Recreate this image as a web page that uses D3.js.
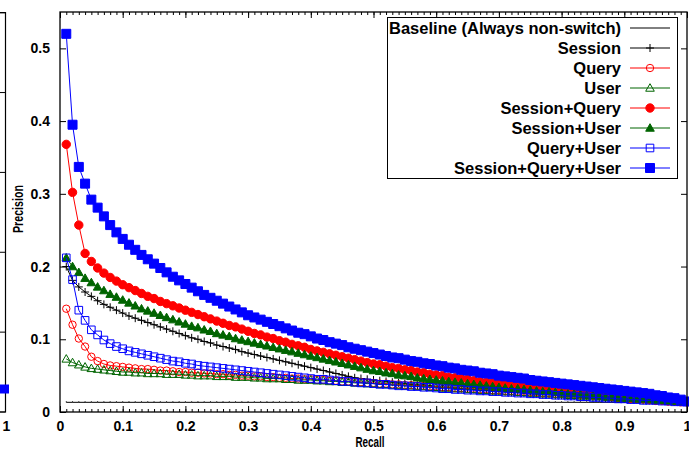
<!DOCTYPE html>
<html>
<head>
<meta charset="utf-8">
<script src="https://cdn.jsdelivr.net/npm/d3@7"></script>
<style>
body { margin: 0; background: #fff; }
svg { display: block; font-family: "Liberation Sans", Arial, sans-serif; font-weight: bold; }
</style>
</head>
<body>
<svg id="chart" width="689" height="451"></svg>
<script>

// recall grid (x values)
var recall = [0.01,0.02,0.03,0.04,0.05,0.06,0.07,0.08,0.09,0.10,
              0.11,0.12,0.13,0.14,0.15,0.16,0.17,0.18,0.19,0.20,
              0.21,0.22,0.23,0.24,0.25,0.26,0.27,0.28,0.29,0.30,
              0.31,0.32,0.33,0.34,0.35,0.36,0.37,0.38,0.39,0.40,
              0.41,0.42,0.43,0.44,0.45,0.46,0.47,0.48,0.49,0.50,
              0.51,0.52,0.53,0.54,0.55,0.56,0.57,0.58,0.59,0.60,
              0.61,0.62,0.63,0.64,0.65,0.66,0.67,0.68,0.69,0.70,
              0.71,0.72,0.73,0.74,0.75,0.76,0.77,0.78,0.79,0.80,
              0.81,0.82,0.83,0.84,0.85,0.86,0.87,0.88,0.89,0.90,
              0.91,0.92,0.93,0.94,0.95,0.96,0.97,0.98,0.99,1.00];

// precision of the always non-switch baseline
var baseline_precision = 0.0133;

var session = [.200,.181,.172,.165,.159,.153,.148,.144,.140,.136,
               .132,.129,.126,.123,.120,.117,.114,.111,.108,.105,
               .102,.100,.097,.095,.092,.090,.088,.086,.083,.081,
               .079,.077,.075,.073,.071,.069,.067,.065,.063,.061,
               .059,.057,.055,.053,.051,.049,.047,.046,.045,.044,
               .043,.042,.041,.040,.039,.038,.037,.037,.036,.035,
               .034,.034,.033,.032,.032,.031,.030,.030,.029,.028,
               .028,.027,.027,.026,.025,.025,.024,.024,.023,.023,
               .022,.022,.021,.021,.020,.020,.019,.019,.018,.018,
               .017,.017,.016,.016,.016,.015,.015,.014,.014,.014];

var query = [.142,.120,.101,.090,.076,.070,.066,.064,.063,.062,
             .061,.060,.059,.059,.058,.057,.057,.056,.055,.055,
             .054,.054,.053,.053,.052,.052,.051,.051,.050,.050,
             .049,.049,.048,.048,.047,.047,.046,.046,.045,.045,
             .044,.044,.043,.043,.042,.042,.041,.041,.040,.040,
             .039,.039,.038,.038,.037,.037,.036,.036,.035,.035,
             .034,.034,.033,.033,.032,.032,.031,.031,.030,.030,
             .029,.029,.028,.028,.027,.027,.026,.026,.025,.025,
             .024,.024,.023,.023,.022,.022,.021,.021,.020,.020,
             .019,.019,.018,.018,.017,.016,.016,.015,.015,.014];

var user = [.073,.068,.065,.062,.060,.059,.058,.057,.056,.055,
            .055,.054,.054,.053,.053,.053,.052,.052,.052,.051,
            .051,.050,.050,.050,.049,.049,.049,.048,.048,.048,
            .047,.047,.046,.046,.046,.045,.045,.044,.044,.044,
            .043,.043,.042,.042,.041,.041,.040,.040,.039,.039,
            .038,.038,.037,.037,.036,.036,.035,.035,.034,.034,
            .033,.033,.032,.032,.031,.031,.030,.030,.029,.029,
            .028,.028,.027,.027,.026,.026,.025,.025,.024,.024,
            .023,.023,.022,.022,.021,.021,.020,.020,.019,.019,
            .018,.018,.017,.017,.016,.016,.015,.015,.014,.014];

var session_query = [.368,.302,.257,.218,.207,.198,.191,.185,.180,.175,
                     .171,.167,.163,.159,.156,.152,.149,.146,.143,.140,
                     .137,.134,.131,.128,.125,.122,.119,.117,.114,.111,
                     .108,.106,.103,.101,.098,.096,.093,.091,.089,.086,
                     .084,.082,.080,.078,.076,.074,.072,.070,.068,.066,
                     .065,.063,.061,.060,.058,.057,.055,.054,.052,.051,
                     .050,.048,.047,.046,.045,.043,.042,.041,.040,.039,
                     .038,.037,.036,.035,.034,.033,.032,.031,.030,.029,
                     .028,.027,.026,.026,.025,.024,.023,.022,.021,.020,
                     .019,.019,.018,.017,.016,.016,.015,.015,.014,.014];

var session_user = [.212,.200,.192,.184,.178,.172,.167,.162,.158,.154,
                    .150,.146,.142,.139,.136,.133,.130,.127,.124,.121,
                    .118,.116,.113,.111,.108,.106,.104,.101,.099,.097,
                    .095,.093,.091,.089,.087,.085,.083,.081,.079,.077,
                    .075,.073,.071,.069,.067,.065,.063,.061,.059,.057,
                    .056,.054,.053,.051,.050,.049,.047,.046,.045,.044,
                    .043,.042,.041,.040,.039,.038,.037,.036,.035,.034,
                    .033,.032,.032,.031,.030,.029,.028,.028,.027,.026,
                    .025,.025,.024,.023,.023,.022,.021,.021,.020,.019,
                    .019,.018,.018,.017,.016,.016,.015,.015,.014,.014];

var query_user = [.212,.182,.140,.126,.113,.106,.099,.094,.090,.087,
                  .084,.082,.080,.078,.076,.074,.072,.070,.069,.067,
                  .066,.064,.063,.062,.061,.060,.059,.058,.057,.056,
                  .055,.054,.053,.052,.051,.050,.049,.048,.047,.046,
                  .045,.045,.044,.043,.042,.042,.041,.040,.040,.039,
                  .038,.038,.037,.036,.036,.035,.035,.034,.034,.033,
                  .032,.032,.031,.031,.030,.030,.029,.029,.028,.028,
                  .027,.027,.026,.026,.025,.025,.024,.024,.023,.023,
                  .022,.022,.021,.021,.020,.020,.019,.019,.018,.018,
                  .017,.017,.016,.016,.016,.015,.015,.014,.014,.014];

var session_query_user = [.520,.395,.337,.314,.292,.281,.269,.257,.247,.238,
                          .230,.223,.216,.210,.204,.198,.192,.186,.181,.176,
                          .171,.166,.161,.157,.153,.149,.145,.141,.137,.133,
                          .130,.127,.124,.121,.118,.115,.112,.109,.107,.104,
                          .101,.099,.096,.094,.092,.089,.087,.085,.083,.081,
                          .079,.077,.075,.074,.072,.070,.069,.067,.066,.064,
                          .063,.061,.060,.058,.057,.056,.054,.053,.052,.050,
                          .049,.048,.047,.046,.044,.043,.042,.041,.040,.039,
                          .038,.037,.036,.035,.034,.033,.032,.031,.030,.029,
                          .028,.027,.026,.025,.023,.022,.020,.019,.017,.0145];

var series_names = ["Baseline (Always non-switch)", "Session", "Query", "User",
                    "Session+Query", "Session+User", "Query+User", "Session+Query+User"];
var series_values = [recall.map(function(){ return baseline_precision; }),
                     session, query, user, session_query, session_user, query_user, session_query_user];

var x_ticks = [0,0.1,0.2,0.3,0.4,0.5,0.6,0.7,0.8,0.9,1];
var x_tick_labels = ["0","0.1","0.2","0.3","0.4","0.5","0.6","0.7","0.8","0.9","1"];
var y_ticks = [0,0.1,0.2,0.3,0.4,0.5];
var y_tick_labels = ["0","0.1","0.2","0.3","0.4","0.5"];

// neighbouring panel cut off at the left edge: only its last point shows
var left_panel_recall = [1];
var left_panel_value = [0.0144];
var left_panel_y_ticks = [0,0.05,0.1,0.15,0.2,0.25];

// styles
var series_colors = ["#000000","#000000","#ff0000","#006400","#ff0000","#006400","#0000ff","#0000ff"];
var series_marker = ["dot","plus","circle","triangle","circle","triangle","square","square"];
var series_filled = [false,false,false,false,true,true,false,true];

var svg = d3.select("#chart");
svg.append("rect").attr("width", 689).attr("height", 451).attr("fill", "#fff");

var margin = {left: 60, right: 2, top: 12, bottom: 39},
    width  = 689 - margin.left - margin.right,
    height = 451 - margin.top - margin.bottom;

var xScale = d3.scaleLinear().domain([0, 1]).range([margin.left, margin.left + width]);
var yScale = d3.scaleLinear().domain([0, 0.55]).range([margin.top + height, margin.top]);

function marker_path(kind, s){
    if( kind == "plus" ) return "M" + (-s) + ",0H" + s + "M0," + (-s) + "V" + s;
    if( kind == "circle" ) return "M" + s + ",0A" + s + "," + s + " 0 1,1 " + (-s) + ",0A" + s + "," + s + " 0 1,1 " + s + ",0Z";
    if( kind == "triangle" ) return "M0," + (-s) + "L" + s + "," + (s*0.75) + "L" + (-s) + "," + (s*0.75) + "Z";
    if( kind == "square" ) return "M" + (-s) + "," + (-s) + "H" + s + "V" + s + "H" + (-s) + "Z";
    return "M0,-1V0";
}

function marker_size(i){
    if( series_marker[i] == "square" ) return series_filled[i] ? 4.5 : 3.8;
    if( series_marker[i] == "circle" ) return series_filled[i] ? 4.2 : 3.7;
    if( series_marker[i] == "triangle" ) return 4.3;
    return 4;
}

function draw_marker(g, i, px, py){
    g.append("path")
        .attr("transform", "translate(" + px + "," + py + ")")
        .attr("d", marker_path(series_marker[i], marker_size(i)))
        .attr("fill", series_filled[i] ? series_colors[i] : "none")
        .attr("stroke", series_colors[i])
        .attr("stroke-width", 1);
}

// ---- left neighbour panel (clipped)
var leftX = d3.scaleLinear().domain([0, 1]).range([5.5 - width, 5.5]);
var leftY = d3.scaleLinear().domain([0, 0.25]).range([margin.top + height, margin.top + 0.7]);
var left_grp = svg.append("g");
left_grp.append("path")
    .attr("d", "M0," + leftY(0.25) + "H" + leftX(1) + "V" + leftY(0) + "H0")
    .attr("fill", "none").attr("stroke", "#000").attr("stroke-width", 1.2);
left_grp.selectAll(".lt").data(left_panel_y_ticks).enter().append("line")
    .attr("x1", 0).attr("x2", leftX(1))
    .attr("y1", function(d){ return leftY(d); }).attr("y2", function(d){ return leftY(d); })
    .attr("stroke", "#000").attr("stroke-width", 1);
left_panel_recall.forEach(function(r, k){
    left_grp.append("path")
        .attr("transform", "translate(" + (leftX(r) - 1) + "," + leftY(left_panel_value[k]) + ")")
        .attr("d", marker_path("square", 4.5))
        .attr("fill", "#0000ff");
});
left_grp.append("text")
    .attr("x", leftX(1) + 1).attr("y", 431)
    .attr("text-anchor", "middle").attr("font-size", 14)
    .text("1");

// ---- axes (ticks point inward)
var minor = d3.range(0, 1.0001, 0.01);

svg.append("g").attr("transform", "translate(0," + (margin.top + height) + ")")
    .call(d3.axisBottom(xScale).tickValues(minor).tickSizeInner(-3).tickSizeOuter(0).tickFormat(""));
svg.append("g").attr("transform", "translate(0," + margin.top + ")")
    .call(d3.axisTop(xScale).tickValues(minor).tickSizeInner(-3).tickSizeOuter(0).tickFormat(""));
svg.append("g").attr("transform", "translate(0," + (margin.top + height) + ")")
    .call(d3.axisBottom(xScale).tickValues(x_ticks).tickSizeInner(-6).tickSizeOuter(0).tickPadding(9)
          .tickFormat(function(d, i){ return x_tick_labels[i]; }));
svg.append("g").attr("transform", "translate(0," + margin.top + ")")
    .call(d3.axisTop(xScale).tickValues(x_ticks).tickSizeInner(-6).tickSizeOuter(0).tickFormat(""));
svg.append("g").attr("transform", "translate(" + margin.left + ",0)")
    .call(d3.axisLeft(yScale).tickValues(y_ticks).tickSizeInner(-6).tickSizeOuter(0).tickPadding(10)
          .tickFormat(function(d, i){ return y_tick_labels[i]; }));
svg.append("g").attr("transform", "translate(" + (margin.left + width) + ",0)")
    .call(d3.axisRight(yScale).tickValues(y_ticks).tickSizeInner(-6).tickSizeOuter(0).tickFormat(""));

svg.selectAll(".domain").remove();
svg.selectAll(".tick line").attr("stroke", "#000").attr("stroke-width", 1);
svg.selectAll(".tick text")
    .attr("font-family", "'Liberation Sans', Arial, sans-serif")
    .attr("font-weight", "bold").attr("font-size", 14).attr("fill", "#000");

// axis titles
svg.append("text")
    .attr("x", 370).attr("y", 447)
    .attr("text-anchor", "middle").attr("font-size", 14)
    .attr("textLength", 29).attr("lengthAdjust", "spacingAndGlyphs")
    .text("Recall");
svg.append("text")
    .attr("transform", "translate(23,209) rotate(-90)")
    .attr("text-anchor", "middle").attr("font-size", 14)
    .attr("textLength", 48).attr("lengthAdjust", "spacingAndGlyphs")
    .text("Precision");

// ---- series, drawn in plot order so Session+Query+User ends on top
svg.append("clipPath").attr("id", "boxclip")
    .append("rect").attr("x", margin.left).attr("y", margin.top)
    .attr("width", width + 4).attr("height", height);

var plot_grp = svg.append("g").attr("clip-path", "url(#boxclip)");

series_values.forEach(function(vals, i){
    var data = recall.map(function(r, k){ return [r, vals[k]]; });
    var g = plot_grp.append("g");
    g.append("path")
        .datum(data)
        .attr("fill", "none")
        .attr("stroke", series_colors[i])
        .attr("stroke-width", 1)
        .attr("d", d3.line()
            .x(function(d){ return xScale(d[0]); })
            .y(function(d){ return yScale(d[1]); }));
    data.forEach(function(d){
        draw_marker(g, i, xScale(d[0]), yScale(d[1]));
    });
});

// frame
svg.append("rect")
    .attr("x", margin.left).attr("y", margin.top)
    .attr("width", width).attr("height", height)
    .attr("fill", "none").attr("stroke", "#000").attr("stroke-width", 1.3);

// ---- legend
var leg = svg.append("g");
leg.append("rect")
    .attr("x", 387.5).attr("y", 17.5).attr("width", 290).attr("height", 161)
    .attr("fill", "#fff").attr("stroke", "#000").attr("stroke-width", 1);

series_names.forEach(function(name, i){
    var ly = 28 + i * 20;
    leg.append("text")
        .attr("x", 621).attr("y", ly)
        .attr("dy", "0.36em")
        .attr("text-anchor", "end").attr("font-size", 16.5)
        .text(name);
    leg.append("line")
        .attr("x1", 630).attr("x2", 670).attr("y1", ly).attr("y2", ly)
        .attr("stroke", series_colors[i]).attr("stroke-width", 1);
    if( series_marker[i] != "dot" ) draw_marker(leg, i, 650, ly);
});

</script>
</body>
</html>
